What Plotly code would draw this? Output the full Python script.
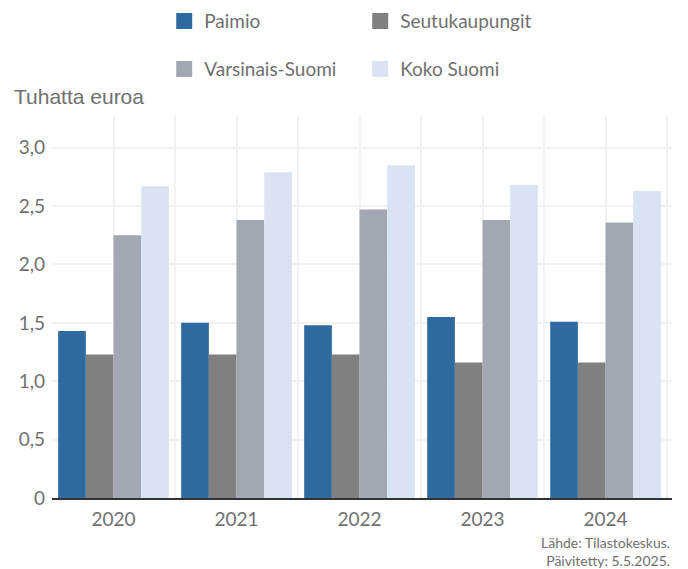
import plotly.graph_objects as go

years = ["2020", "2021", "2022", "2023", "2024"]
paimio = [1.43, 1.50, 1.48, 1.55, 1.51]
seutukaupungit = [1.23, 1.23, 1.23, 1.16, 1.16]
varsinais_suomi = [2.25, 2.38, 2.47, 2.38, 2.36]
koko_suomi = [2.67, 2.79, 2.85, 2.68, 2.63]

series_names = ["Paimio", "Seutukaupungit", "Varsinais-Suomi", "Koko Suomi"]
colors = ["#2E6AA0", "#808080", "#A1A7B3", "#DAE3F2"]
y_tickvals = [0, 0.5, 1.0, 1.5, 2.0, 2.5, 3.0]
y_ticktext = ["0", "0,5", "1,0", "1,5", "2,0", "2,5", "3,0"]

xpos = list(range(len(years)))
fig = go.Figure()
for name, vals, col in zip(series_names, [paimio, seutukaupungit, varsinais_suomi, koko_suomi], colors):
    fig.add_trace(go.Bar(x=xpos, y=vals, name=name, marker=dict(color=col, line=dict(width=0)),
                         showlegend=False, hovertemplate="%{y:.2f}<extra>" + name + "</extra>"))

# legend entries (two rows)
for i, (name, col) in enumerate(zip(series_names, colors)):
    fig.add_trace(go.Scatter(x=[None], y=[None], mode="markers", name=name,
                             marker=dict(symbol="square", size=16, color=col),
                             legend="legend" if i < 2 else "legend2"))

# x tick values at centres plus midpoints for gridlines
x_tickvals = []
x_ticktext = []
for i, yv in enumerate(years):
    x_tickvals += [i, i + 0.5]
    x_ticktext += [yv, ""]

legend_common = dict(orientation="h", entrywidth=151, entrywidthmode="pixels",
                     font=dict(family="Lato, sans-serif", size=19, color="#707070"),
                     bgcolor="rgba(0,0,0,0)", xanchor="left", yanchor="middle",
                     itemsizing="trace")

# page body has an 8px default margin, so the figure is 8px smaller than the window
fig.update_layout(
    width=680, height=561,
    margin=dict(l=44, r=16, t=107, b=71, autoexpand=False),
    paper_bgcolor="white", plot_bgcolor="white",
    barmode="group", bargap=0.1, bargroupgap=0,
    font=dict(family="Lato, sans-serif", color="#707070"),
    legend=dict(x=0.181, y=1.245, **legend_common),
    legend2=dict(x=0.181, y=1.12, **legend_common),
    xaxis=dict(range=[-0.5, 4.54], tickvals=x_tickvals, ticktext=x_ticktext,
               showgrid=True, gridcolor="#F2F2F2", gridwidth=2,
               showline=True, linecolor="#333333", linewidth=2,
               ticks="", ticklabelstandoff=3, automargin=False,
               tickfont=dict(size=19, color="#707070", family="Lato, sans-serif"),
               zeroline=False, fixedrange=True),
    yaxis=dict(range=[0, 3.28], tickvals=y_tickvals, ticktext=y_ticktext,
               showgrid=True, gridcolor="#F2F2F2", gridwidth=2,
               zeroline=False, showline=False, ticks="", ticklabelstandoff=6, automargin=False,
               tickfont=dict(size=19, color="#707070", family="Lato, sans-serif"),
               fixedrange=True),
    annotations=[
        dict(text="Tuhatta euroa", xref="paper", yref="paper", x=-0.0645, y=1.049,
             xanchor="left", yanchor="middle", showarrow=False,
             font=dict(family="Liberation Sans, Arial, sans-serif", size=21, color="#707070")),
        dict(text="Lähde: Tilastokeskus.<br>Päivitetty: 5.5.2025.", xref="paper", yref="paper",
             x=1.0, y=-0.089, xanchor="right", yanchor="top", align="right", showarrow=False,
             font=dict(family="Lato, sans-serif", size=14, color="#707070")),
    ],
)

fig.write_html("out.html")
